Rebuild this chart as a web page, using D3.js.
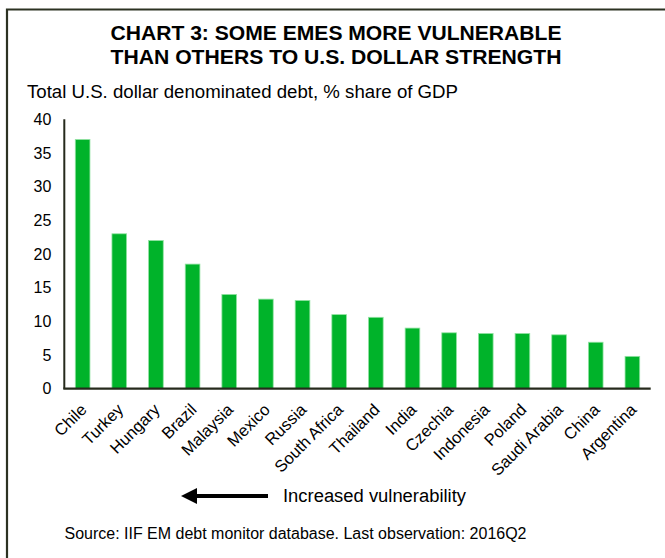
<!DOCTYPE html>
<html>
<head>
<meta charset="utf-8">
<script src="https://cdn.jsdelivr.net/npm/d3@7"></script>
<style>
  html, body { margin: 0; padding: 0; background: #fff; }
  svg { display: block; font-family: Arial, "Liberation Sans", sans-serif; }
</style>
</head>
<body>
<svg id="chart" width="665" height="558"></svg>
<script>
const categories = ["Chile","Turkey","Hungary","Brazil","Malaysia","Mexico","Russia","South Africa","Thailand","India","Czechia","Indonesia","Poland","Saudi Arabia","China","Argentina"];
const values = [37.0, 23.0, 22.0, 18.5, 14.0, 13.3, 13.1, 11.0, 10.6, 9.0, 8.3, 8.2, 8.2, 8.0, 6.9, 4.8];
const yTicks = [0, 5, 10, 15, 20, 25, 30, 35, 40];
const titleLines = ["CHART 3: SOME EMES MORE VULNERABLE", "THAN OTHERS TO U.S. DOLLAR STRENGTH"];
const yLabel = "Total U.S. dollar denominated debt, % share of GDP";
const arrowLabel = "Increased vulnerability";
const sourceText = "Source: IIF EM debt monitor database. Last observation: 2016Q2";

const svg = d3.select("#chart");
const W = 665, H = 558;

// frame
svg.append("path")
  .attr("d", `M7,${H} L7,9.5 L${W},9.5`)
  .attr("fill", "none").attr("stroke", "#2c3222").attr("stroke-width", 2.2);

// title
titleLines.forEach((t, i) => {
  svg.append("text")
    .attr("x", 336).attr("y", 39.5 + i * 24)
    .attr("text-anchor", "middle")
    .attr("font-weight", "bold").attr("font-size", 20)
    .attr("textLength", 451).attr("lengthAdjust", "spacingAndGlyphs")
    .attr("fill", "#000").text(t);
});

svg.append("text")
  .attr("x", 27).attr("y", 97.5)
  .attr("font-size", 17.5)
  .attr("textLength", 431).attr("lengthAdjust", "spacingAndGlyphs")
  .attr("fill", "#000").text(yLabel);

const x0 = 64.3, x1 = 650.7, yBase = 388.7, yTop = 119.3;
const x = d3.scaleBand().domain(categories).range([x0, x1]).paddingInner(0.6).paddingOuter(0.3);
const y = d3.scaleLinear().domain([0, 40]).range([yBase, yTop]);

// bars
svg.append("g").selectAll("rect").data(categories).join("rect")
  .attr("x", d => x(d))
  .attr("y", (d, i) => y(values[i]))
  .attr("width", x.bandwidth())
  .attr("height", (d, i) => yBase - y(values[i]))
  .attr("fill", "#00b32a")
  .attr("stroke", "#92e2a2").attr("stroke-width", 0.8);

// y axis
const yAxis = svg.append("g").attr("transform", `translate(${x0},0)`)
  .call(d3.axisLeft(y).tickValues(yTicks).tickSize(0).tickPadding(13));
yAxis.select(".domain").remove();
yAxis.selectAll("text").attr("font-size", 16).attr("font-family", "Arial, 'Liberation Sans', sans-serif").attr("fill", "#000");

svg.append("line").attr("x1", x0).attr("x2", x0).attr("y1", yTop).attr("y2", yBase)
  .attr("stroke", "#262a1c").attr("stroke-width", 2);
svg.append("line").attr("x1", x0 - 1).attr("x2", x1).attr("y1", yBase).attr("y2", yBase)
  .attr("stroke", "#262a1c").attr("stroke-width", 2.2);

// x axis labels
const xAxis = svg.append("g").attr("transform", `translate(0,${yBase})`)
  .call(d3.axisBottom(x).tickSize(0).tickPadding(0));
xAxis.select(".domain").remove();
xAxis.selectAll(".tick text")
  .attr("font-size", 16.5).attr("font-family", "Arial, 'Liberation Sans', sans-serif").attr("fill", "#000")
  .attr("text-anchor", "end")
  .attr("dy", 0)
  .attr("transform", "translate(5,22) rotate(-45)");

// arrow
const ay = 496;
svg.append("line").attr("x1", 268).attr("x2", 194).attr("y1", ay).attr("y2", ay)
  .attr("stroke", "#000").attr("stroke-width", 4);
svg.append("path").attr("d", `M181,${ay} L197,${ay - 8} L197,${ay + 8} Z`).attr("fill", "#000");

svg.append("text").attr("x", 283).attr("y", 502)
  .attr("font-size", 18).attr("textLength", 183).attr("lengthAdjust", "spacingAndGlyphs")
  .attr("fill", "#000").text(arrowLabel);

svg.append("text").attr("x", 64.5).attr("y", 538.5)
  .attr("font-size", 16).attr("textLength", 462).attr("lengthAdjust", "spacingAndGlyphs")
  .attr("fill", "#000").text(sourceText);
</script>
</body>
</html>
